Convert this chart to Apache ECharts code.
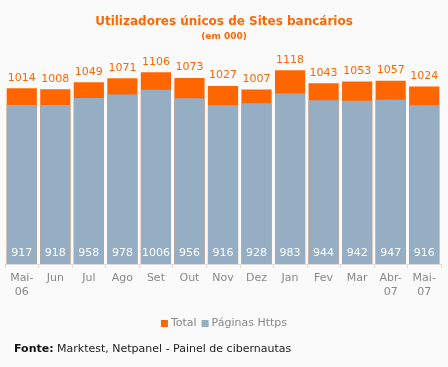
<!DOCTYPE html>
<html>
<head>
<meta charset="utf-8">
<script src="https://cdn.jsdelivr.net/npm/echarts@6/dist/echarts.min.js"></script>
<style>
html,body{margin:0;padding:0;background:#fafafa;}
#c{width:448px;height:367px;}
</style>
</head>
<body>
<div id="c"></div>
<script>
var categories = ['Mai-\n06','Jun','Jul','Ago','Set','Out','Nov','Dez','Jan','Fev','Mar','Abr-\n07','Mai-\n07'];
var totalValues = [1014,1008,1049,1071,1106,1073,1027,1007,1118,1043,1053,1057,1024];
var httpsValues = [917,918,958,978,1006,956,916,928,983,944,942,947,916];

var chart = echarts.init(document.getElementById('c'), null, {renderer:'canvas'});
var FONT = '"DejaVu Sans", Verdana, sans-serif';
chart.setOption({
  backgroundColor:'#fafafa',
  animation:false,
  title:[
    {text:'Utilizadores únicos de Sites bancários', left:'center', top:11,
     textStyle:{color:'#ff6600', fontSize:12, fontWeight:'bold', fontFamily:FONT}},
    {text:'(em 000)', left:'center', top:27,
     textStyle:{color:'#ff6600', fontSize:9, fontWeight:'bold', fontFamily:FONT}},
    {text:'{b|Fonte:} Marktest, Netpanel - Painel de cibernautas', left:14, top:344, padding:0,
     textStyle:{color:'#222', fontSize:11, fontWeight:'normal', fontFamily:FONT,
       rich:{b:{fontWeight:'bold', color:'#111', fontSize:11, fontFamily:FONT}}}}
  ],
  legend:{
    data:['Total','Páginas Https'], left:'center', top:313,
    itemWidth:7, itemHeight:7, itemGap:5, icon:'rect',
    textStyle:{color:'#888', fontSize:11, fontFamily:FONT, padding:[0,0,0,-2]}
  },
  grid:{left:5, right:7, top:56, bottom:103},
  xAxis:{
    type:'category', data:categories,
    axisLine:{lineStyle:{color:'#ddd'}},
    axisTick:{show:true, length:4, lineStyle:{color:'#ddd'}},
    axisLabel:{color:'#888', fontSize:11, fontFamily:FONT, margin:7, lineHeight:14, interval:0}
  },
  yAxis:{type:'value', min:0, max:1200, show:false, splitLine:{show:false}},
  series:[
    {name:'Total', type:'bar', data:totalValues, barCategoryGap:'10%', barGap:'-100%',
     itemStyle:{color:'#ff6600'},
     label:{show:true, position:'top', distance:5, color:'#ff6600', fontSize:11, fontFamily:FONT}},
    {name:'Páginas Https', type:'bar', data:httpsValues, barCategoryGap:'10%',
     itemStyle:{color:'#95aec4'},
     label:{show:true, position:'insideBottom', distance:5, color:'#fff', fontSize:11, fontFamily:FONT}}
  ]
});
</script>
</body>
</html>
